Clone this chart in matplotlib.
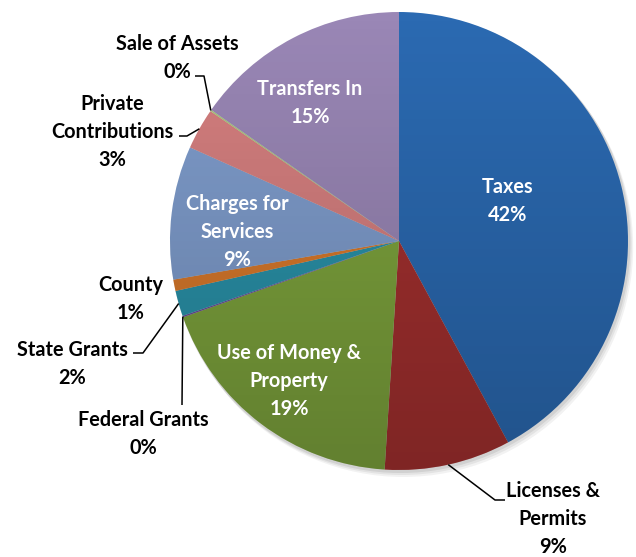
import numpy as np
import matplotlib
matplotlib.use("Agg")
import matplotlib.pyplot as plt
from matplotlib.patches import Circle

# ---- data ----
categories = ["Taxes", "Licenses &\nPermits", "Use of Money &\nProperty", "Federal Grants",
              "State Grants", "County", "Charges for\nServices", "Private\nContributions",
              "Sale of Assets", "Transfers In"]
values = [42.1, 8.9, 18.6, 0.1, 1.8, 0.8, 9.4, 2.9, 0.1, 15.3]
pct_labels = ["42%", "9%", "19%", "0%", "2%", "1%", "9%", "3%", "0%", "15%"]
colors = ["#2B6AB2", "#A3302F", "#7EA43D", "#6A4A9C", "#2A93AA", "#DA7A2C",
          "#7F9DCD", "#D68080", "#A9C97A", "#9A87B6"]

W, H = 636, 557
fig = plt.figure(figsize=(W / 100, H / 100), dpi=100)
ax = fig.add_axes([0, 0, 1, 1])

cx, cy, R = 399, H - 241, 229

# shadow
for i, (a, d) in enumerate([(0.05, 6), (0.06, 4), (0.08, 2)]):
    ax.add_patch(Circle((cx + d * 0.7, cy - d), R + 1, color="black", alpha=a, lw=0, zorder=0))

wedges, _ = ax.pie(values, colors=colors, startangle=90, counterclock=False,
                   center=(cx, cy), radius=R, wedgeprops=dict(linewidth=0, antialiased=True))
for w in wedges:
    w.set_zorder(1)

# subtle vertical gradient overlay
grad = np.linspace(0, 1, 256)
rgba = np.zeros((256, 1, 4))
rgba[:, 0, 3] = grad * 0.22
img = ax.imshow(rgba, extent=(cx - R, cx + R, cy - R, cy + R), origin="upper",
                aspect="auto", zorder=2, interpolation="bilinear")
clip = Circle((cx, cy), R, transform=ax.transData)
img.set_clip_path(clip)

ax.set_xlim(0, W)
ax.set_ylim(0, H)
ax.set_aspect("equal")
ax.axis("off")

font = dict(family="Lato", fontweight="bold", fontsize=14.3)

def px(x, y):
    return x, H - y

# inner (white) labels: index -> (x, y) of text block center
inner = {0: (508, 201), 9: (310, 103), 6: (237, 232), 2: (289, 381)}
for i, (x, y) in inner.items():
    ax.text(*px(x, y), categories[i] + "\n" + pct_labels[i], color="white",
            ha="center", va="center", linespacing=1.5, zorder=5, **font)

# outer labels with leader lines: index -> (text center, elbow, line start)
outer = {
    1: ((553, 519), (495, 500), (505, 500)),
    3: ((143, 434), (182, 405), (182, 405)),
    4: ((72, 364), (143, 353), (133, 353)),
    5: ((131, 299), None, None),
    7: ((112, 132), (187, 136), (179, 136)),
    8: ((177, 58), (204, 76), (195, 76)),
}
for i, (tpos, elbow, start) in outer.items():
    ax.text(*px(*tpos), categories[i] + "\n" + pct_labels[i], color="black",
            ha="center", va="center", linespacing=1.5, zorder=5, **font)
    if elbow is not None:
        w = wedges[i]
        mid = np.deg2rad((w.theta1 + w.theta2) / 2)
        anchor = (cx + R * np.cos(mid), cy + R * np.sin(mid))
        xs = [px(*start)[0], px(*elbow)[0], anchor[0]]
        ys = [px(*start)[1], px(*elbow)[1], anchor[1]]
        ax.plot(xs, ys, color="black", lw=1.1, zorder=4, solid_capstyle="butt")

fig.savefig("out.png", dpi=100)
